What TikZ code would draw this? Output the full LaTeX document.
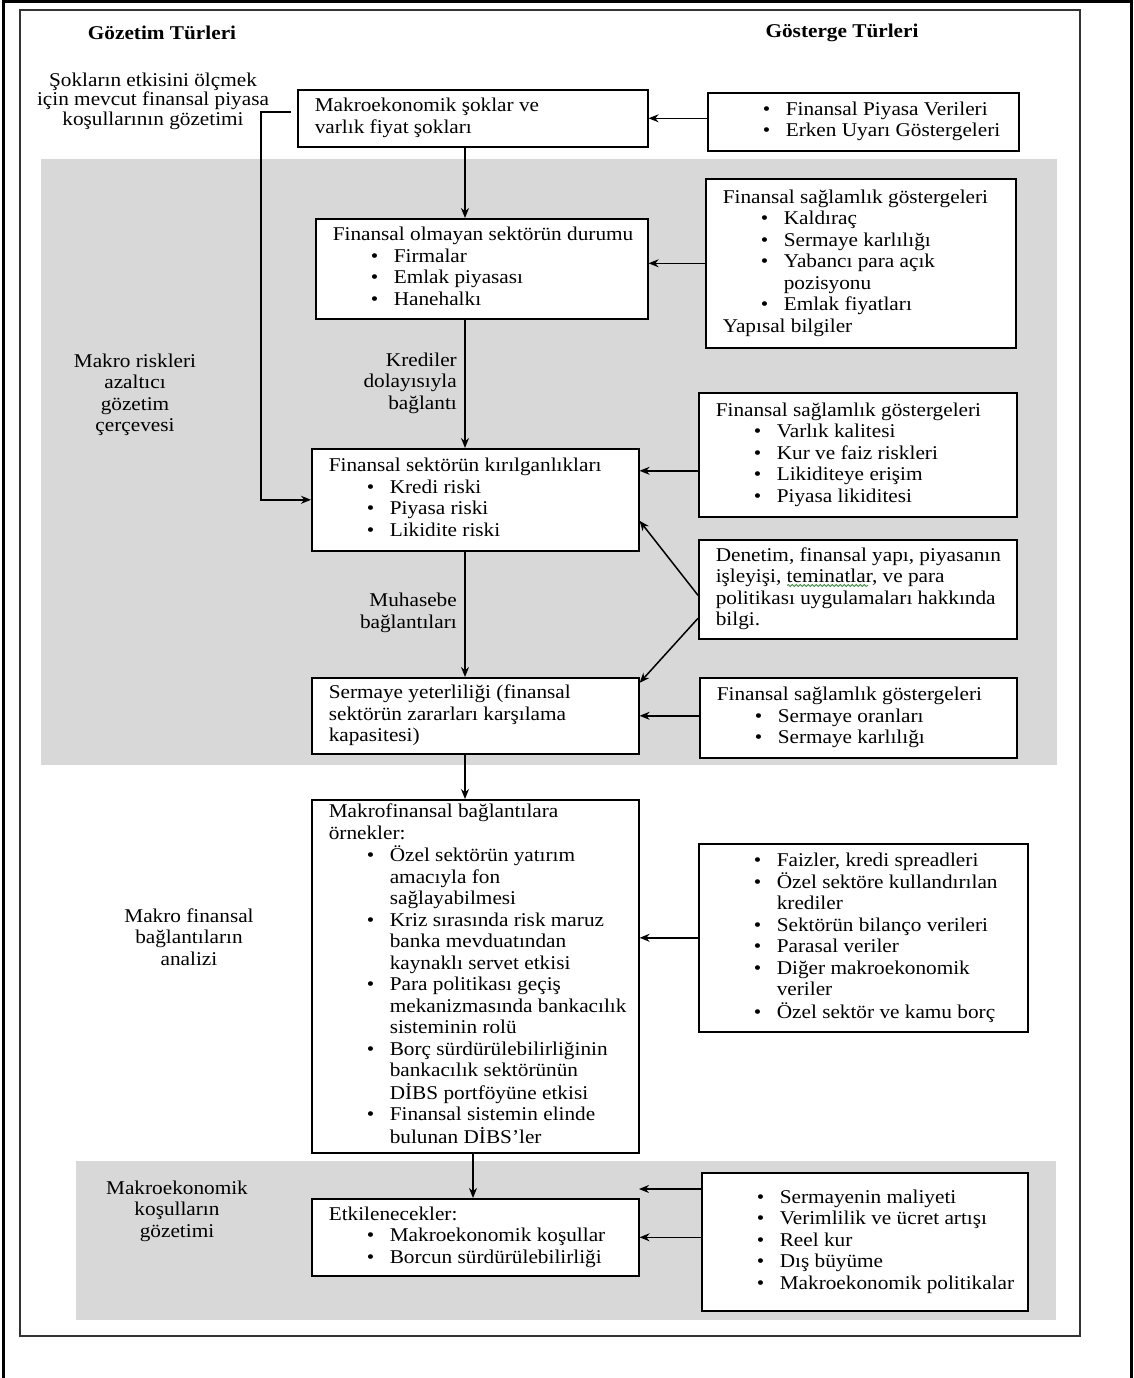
\documentclass[tikz,border=0pt]{standalone}
\usepackage{fontspec}
\setmainfont{Liberation Serif}[FakeStretch=1.09]
\usetikzlibrary{arrows.meta,decorations.pathmorphing}
\definecolor{panel}{RGB}{216,216,216}
\definecolor{wavegreen}{RGB}{60,140,60}
\newcommand\bt[2]{\makebox[#1pt][l]{\begin{tabular}{@{}l@{}}#2\end{tabular}}}
\newcommand\bu[1]{\hspace*{38pt}\makebox[23pt][l]{\textbullet}#1}
\newcommand\co[1]{\hspace*{61pt}#1}
\begin{document}
\begin{tikzpicture}[x=1pt,y=-1pt,
  font=\fontsize{19.5}{21.5}\selectfont,
  box/.style={draw, line width=1.6pt, fill=white, inner xsep=17pt, inner ysep=0pt, anchor=north west},
  lbl/.style={inner sep=0pt, align=center},
  arr/.style={-{Stealth[length=10pt,width=8pt]}, line width=1.5pt}]
\useasboundingbox (0,0) rectangle (1134,1378);
% outer and inner frames
\draw[line width=3pt] (3,1378) -- (3,1.5) -- (1131,1.5) -- (1131,1378);
\draw[line width=1.8pt, black!80] (20,10) rectangle (1080,1336);
% grey panels
\fill[panel] (41,159) rectangle (1057,765);
\fill[panel] (76,1161) rectangle (1056,1320);
% headers
\node[lbl, font=\fontsize{19.5}{21.5}\selectfont\bfseries] (h1) at (162,33) {Gözetim Türleri};
\node[lbl, font=\fontsize{19.5}{21.5}\selectfont\bfseries] (h2) at (842,33) {Gösterge Türleri};
% left labels
\node[lbl, font=\fontsize{19.5}{19.5}\selectfont] (l1) at (153,101) {Şokların etkisini ölçmek\\için mevcut finansal piyasa\\koşullarının gözetimi};
\node[lbl] (l2) at (135,395) {Makro riskleri\\azaltıcı\\gözetim\\çerçevesi};
\node[lbl] (l5) at (189,937) {Makro finansal\\bağlantıların\\analizi};
\node[lbl] (l6) at (177,1211) {Makroekonomik\\koşulların\\gözetimi};
\node[lbl, align=right, anchor=east] (l3) at (457,383) {Krediler\\dolayısıyla\\bağlantı};
\node[lbl, align=right, anchor=east] (l4) at (457,613) {Muhasebe\\bağlantıları};
% central column
\node[box, minimum height=57pt] (A) at (297,89) {\bt{316}{Makroekonomik şoklar ve\\varlık fiyat şokları}};
\node[box, minimum height=100pt] (B) at (315,218) {\bt{298}{Finansal olmayan sektörün durumu\\\bu{Firmalar}\\\bu{Emlak piyasası}\\\bu{Hanehalkı}}};
\node[box, minimum height=102pt] (C) at (311,448) {\bt{293}{Finansal sektörün kırılganlıkları\\\bu{Kredi riski}\\\bu{Piyasa riski}\\\bu{Likidite riski}}};
\node[box, minimum height=76pt] (E) at (311,677) {\bt{293}{Sermaye yeterliliği (finansal\\sektörün zararları karşılama\\kapasitesi)}};
\node[box, minimum height=353pt] (F) at (311,799) {\bt{293}{Makrofinansal bağlantılara\\örnekler:\\\bu{Özel sektörün yatırım}\\\co{amacıyla fon}\\\co{sağlayabilmesi}\\\bu{Kriz sırasında risk maruz}\\\co{banka mevduatından}\\\co{kaynaklı servet etkisi}\\\bu{Para politikası geçiş}\\\co{mekanizmasında bankacılık}\\\co{sisteminin rolü}\\\bu{Borç sürdürülebilirliğinin}\\\co{bankacılık sektörünün}\\\co{DİBS portföyüne etkisi}\\\bu{Finansal sistemin elinde}\\\co{bulunan DİBS'ler}}};
\node[box, minimum height=77pt] (G) at (311,1198) {\bt{293}{Etkilenecekler:\\\bu{Makroekonomik koşullar}\\\bu{Borcun sürdürülebilirliği}}};
% right column
\node[box, minimum height=58pt] (A2) at (707,92) {\bt{277}{\bu{Finansal Piyasa Verileri}\\\bu{Erken Uyarı Göstergeleri}}};
\node[box, minimum height=169pt] (B2) at (705,178) {\bt{276}{Finansal sağlamlık göstergeleri\\\bu{Kaldıraç}\\\bu{Sermaye karlılığı}\\\bu{Yabancı para açık}\\\co{pozisyonu}\\\bu{Emlak fiyatları}\\Yapısal bilgiler}};
\node[box, minimum height=124pt] (C2) at (698,392) {\bt{284}{Finansal sağlamlık göstergeleri\\\bu{Varlık kalitesi}\\\bu{Kur ve faiz riskleri}\\\bu{Likiditeye erişim}\\\bu{Piyasa likiditesi}}};
\node[box, minimum height=99pt] (D) at (698,539) {\bt{284}{Denetim, finansal yapı, piyasanın\\işleyişi, teminatlar, ve para\\politikası uygulamaları hakkında\\bilgi.}};
\node[box, minimum height=80pt] (E2) at (699,677) {\bt{283}{Finansal sağlamlık göstergeleri\\\bu{Sermaye oranları}\\\bu{Sermaye karlılığı}}};
\node[box, minimum height=188pt] (F2) at (698,843) {\bt{295}{\bu{Faizler, kredi spreadleri}\\\bu{Özel sektöre kullandırılan}\\\co{krediler}\\\bu{Sektörün bilanço verileri}\\\bu{Parasal veriler}\\\bu{Diğer makroekonomik}\\\co{veriler}\\\bu{Özel sektör ve kamu borç}}};
\node[box, minimum height=138pt] (G2) at (701,1172) {\bt{292}{\bu{Sermayenin maliyeti}\\\bu{Verimlilik ve ücret artışı}\\\bu{Reel kur}\\\bu{Dış büyüme}\\\bu{Makroekonomik politikalar}}};
% spell-check squiggle under "teminatlar,"
\draw[wavegreen, line width=0.8pt, decorate, decoration={snake, amplitude=1pt, segment length=4pt}] (787,585.5) -- (868,585.5);
% helper coordinates
\coordinate (spine) at (465,0);
\coordinate (spineb) at (473,0);
\coordinate (s) at (291,112);
\coordinate (c2a) at ([yshift=-16pt]C2.west);
\coordinate (d1) at ([yshift=-6pt]D.west);
\coordinate (d2) at ([yshift=-29pt]D.west);
\coordinate (c1) at ([yshift=-21pt]C.east);
\coordinate (e1) at ([yshift=33pt]E.east);
\coordinate (gtip) at (639,1189);
% connectors
\draw[arr] (A.south -| spine) -- (B.north -| spine);
\draw[arr] (B.south -| spine) -- (C.north -| spine);
\draw[arr] (C.south -| spine) -- (E.north -| spine);
\draw[arr] (E.south -| spine) -- (F.north -| spine);
\draw[arr] (F.south -| spineb) -- (G.north -| spineb);
\draw[arr] (s) -- ++(-30,0) |- (C.west);
\draw[arr] (A2.west |- A.east) -- (A.east);
\draw[arr] (B2.west) -- (B2.west -| B.east);
\draw[arr] (c2a) -- (c2a -| C.east);
\draw[arr] (d1) -- (c1);
\draw[arr] (d2) -- (e1);
\draw[arr] (E2.west |- E.east) -- (E.east);
\draw[arr] (F2.west) -- (F2.west -| F.east);
\draw[arr] (gtip -| G2.west) -- (gtip);
\draw[arr] (G2.west |- G.east) -- (G.east);
\end{tikzpicture}
\end{document}
